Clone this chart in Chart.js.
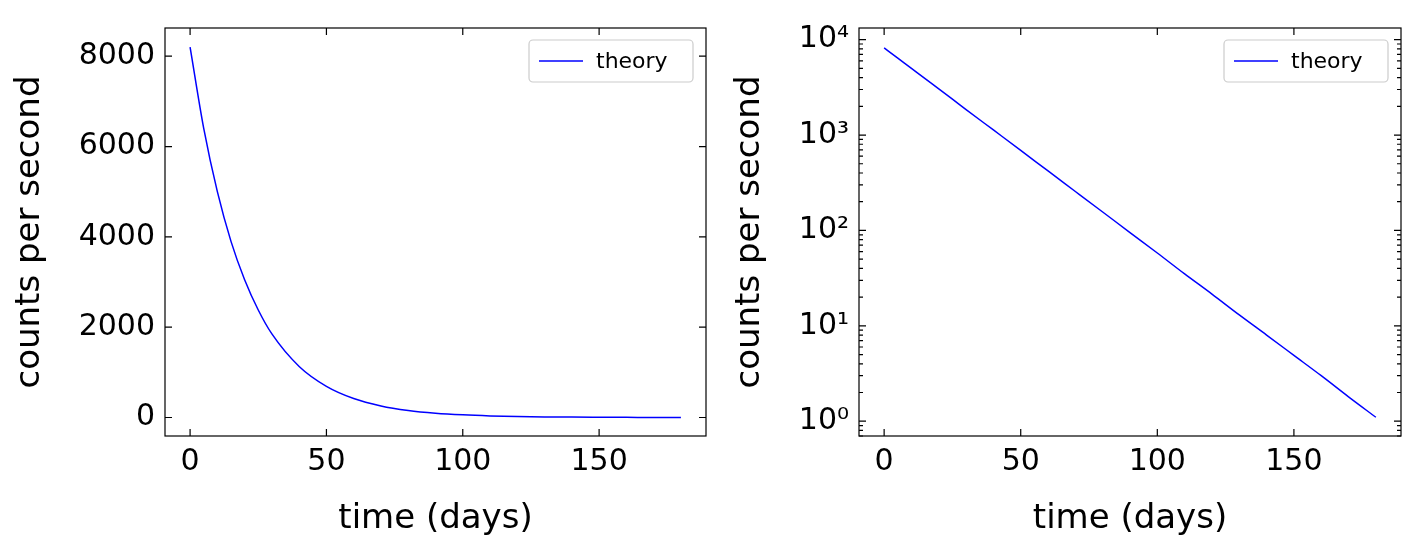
<!DOCTYPE html>
<html><head><meta charset="utf-8">
<script src="https://cdn.jsdelivr.net/npm/chart.js@4"></script>
<style>
body{margin:0;background:#fff;width:1415px;height:550px;position:relative;overflow:hidden}
.box{position:absolute;top:0;height:550px}
</style></head><body>
<div class="box" style="left:0;width:710px"><canvas id="c1"></canvas></div>
<div class="box" style="left:710px;width:705px"><canvas id="c2"></canvas></div>
<script>
// valores (dias, contagens por segundo)
const dias = [0, 5, 10, 15, 20, 25, 30, 40, 50, 60, 70, 80, 90, 100, 110, 120, 130, 140, 150, 160, 170, 180];
const contagens = [8200, 6400, 5000, 3900, 3050, 2380, 1850, 1130, 690, 420, 256, 156, 95, 58, 35, 21.5, 13, 8, 4.9, 3, 1.8, 1.1];
const ticksX = [0, 50, 100, 150];
const ticksYLin = [0, 2000, 4000, 6000, 8000];
const ticksYLog = [1, 10, 100, 1000, 10000];
const sup = {0:'⁰',1:'¹',2:'²',3:'³',4:'⁴'};

const fonte = 'DejaVu Sans';
Chart.defaults.font.family = fonte;
Chart.defaults.color = '#000';

const pontos = dias.map((d, i) => ({x: d, y: contagens[i]}));

const desenho = {
    id: 'desenho',
    afterDraw(chart) {
        const c = chart.ctx, a = chart.chartArea;
        const sx = chart.scales.x, sy = chart.scales.y;
        c.save();
        c.strokeStyle = '#000'; c.lineWidth = 1.2;
        c.strokeRect(a.left, a.top, a.right - a.left, a.bottom - a.top);
        c.beginPath();
        ticksX.forEach(v => {
            const p = sx.getPixelForValue(v);
            c.moveTo(p, a.bottom); c.lineTo(p, a.bottom - 7);
            c.moveTo(p, a.top); c.lineTo(p, a.top + 7);
        });
        const log = sy.type === 'logarithmic';
        (log ? ticksYLog : ticksYLin).forEach(v => {
            const p = sy.getPixelForValue(v);
            c.moveTo(a.left, p); c.lineTo(a.left + 7, p);
            c.moveTo(a.right, p); c.lineTo(a.right - 7, p);
        });
        if (log) {
            for (let d = 0.1; d <= 10000; d *= 10) {
                for (let k = 2; k <= 9; k++) {
                    const v = d * k;
                    if (v < sy.min || v > sy.max) continue;
                    const p = sy.getPixelForValue(v);
                    c.moveTo(a.left, p); c.lineTo(a.left + 4, p);
                    c.moveTo(a.right, p); c.lineTo(a.right - 4, p);
                }
            }
        }
        c.stroke();
        // legenda
        const lx = a.right - 177, ly = a.top + 12, lw = 164, lh = 42;
        c.fillStyle = 'rgba(255,255,255,0.8)';
        c.strokeStyle = '#ccc';
        c.beginPath(); c.roundRect(lx, ly, lw, lh, 4); c.fill(); c.stroke();
        c.strokeStyle = '#0000ff'; c.lineWidth = 1.5;
        c.beginPath(); c.moveTo(lx + 10, ly + 21); c.lineTo(lx + 54, ly + 21); c.stroke();
        c.fillStyle = '#000'; c.font = '22px ' + fonte; c.textBaseline = 'middle';
        c.fillText('theory', lx + 67, ly + 22);
        c.restore();
    }
};

function criar(id, log, esq, dir) {
    return new Chart(document.getElementById(id), {
        type: 'line',
        data: { datasets: [{ label: 'theory', data: pontos, borderColor: '#0000ff', borderWidth: 1.5,
            pointRadius: 0, cubicInterpolationMode: 'monotone', fill: false }] },
        options: {
            responsive: true, maintainAspectRatio: false, animation: false,
            layout: { padding: { top: 8, right: dir, left: 0, bottom: 0 } },
            plugins: { legend: { display: false }, tooltip: { enabled: false } },
            scales: {
                x: {
                    type: 'linear', min: -9.2, max: 189.2,
                    grid: { display: false, drawTicks: false }, border: { display: false },
                    afterBuildTicks: s => { s.ticks = ticksX.map(v => ({value: v})); },
                    afterFit: s => { s.height = 114; },
                    ticks: { font: { size: 30 }, padding: 8 },
                    title: { display: true, text: 'time (days)', font: { size: 34 }, padding: { top: 0, bottom: 10 } }
                },
                y: log ? {
                    type: 'logarithmic', min: 0.738, max: 13240,
                    grid: { display: false, drawTicks: false }, border: { display: false },
                    afterBuildTicks: s => { s.ticks = ticksYLog.map(v => ({value: v})); },
                    afterFit: s => { s.width = esq; },
                    ticks: { font: { size: 30 }, padding: 10, callback: v => '10' + sup[Math.round(Math.log10(v))] },
                    title: { display: true, text: 'counts per second', font: { size: 34 }, padding: { top: 20, bottom: 0 } }
                } : {
                    type: 'linear', min: -410, max: 8625,
                    grid: { display: false, drawTicks: false }, border: { display: false },
                    afterBuildTicks: s => { s.ticks = ticksYLin.map(v => ({value: v})); },
                    afterFit: s => { s.width = esq; },
                    ticks: { font: { size: 30 }, padding: 10, callback: v => String(v) },
                    title: { display: true, text: 'counts per second', font: { size: 34 }, padding: { top: 10, bottom: 0 } }
                }
            }
        },
        plugins: [desenho]
    });
}
criar('c1', false, 165, 4);
criar('c2', true, 149, 14);
</script>
</body></html>
